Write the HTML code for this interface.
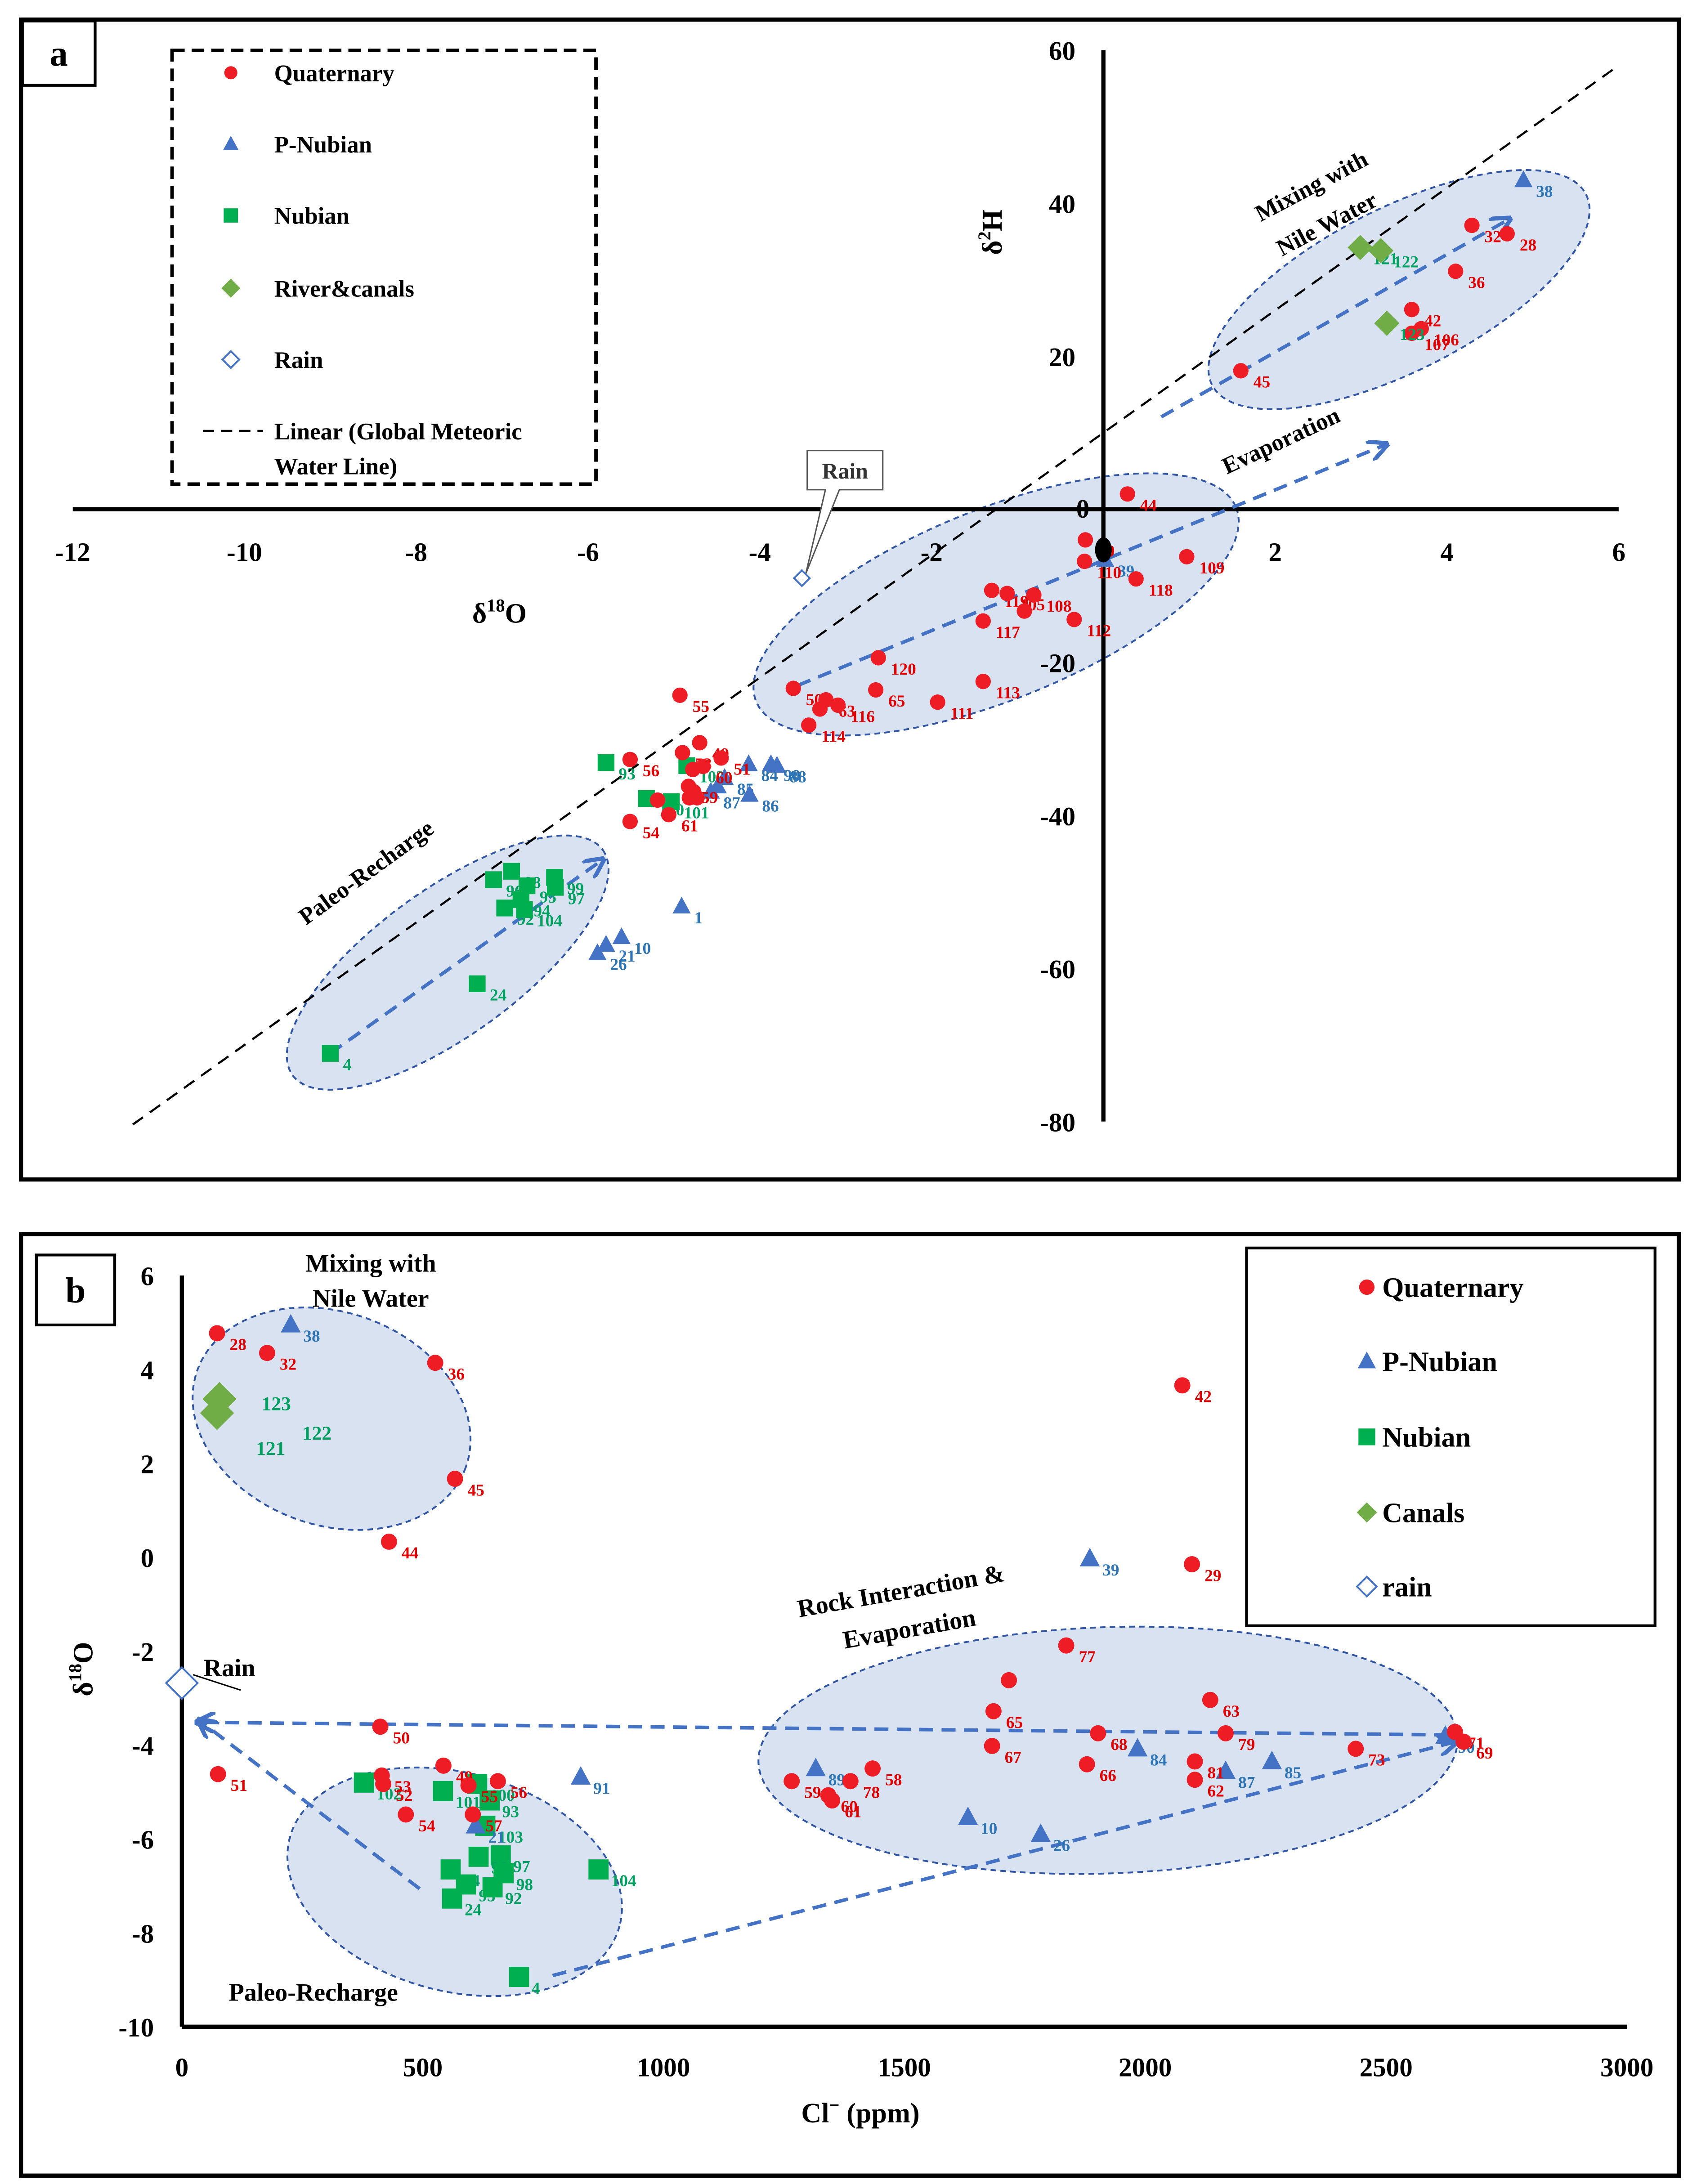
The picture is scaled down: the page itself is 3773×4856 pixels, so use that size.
<!DOCTYPE html>
<html><head><meta charset="utf-8">
<style>
html,body{margin:0;padding:0;background:#fff;}
svg{display:block;}
text{font-family:"Liberation Serif",serif;font-weight:bold;}
</style></head>
<body>
<svg id="fig" width="3773" height="4856" viewBox="0 0 1213 1561" preserveAspectRatio="none" xmlns="http://www.w3.org/2000/svg">
<defs>
<marker id="arr" viewBox="0 0 10 10" refX="8" refY="5" markerWidth="6" markerHeight="6" orient="auto-start-reverse"><path d="M0,0 L10,5 L0,10" fill="none" stroke="#4472c4" stroke-width="2"/></marker>
</defs>
<!-- Panel A frame -->
<rect x="15" y="14" width="1185" height="829" fill="none" stroke="#000" stroke-width="3"/>
<rect x="16" y="15" width="52" height="46" fill="#fff" stroke="#000" stroke-width="2"/>
<text x="42" y="47" font-size="26" text-anchor="middle">a</text>
<!-- Panel B frame -->
<rect x="15" y="882" width="1185" height="673" fill="none" stroke="#000" stroke-width="3"/>
<rect x="26" y="897" width="56" height="50" fill="#fff" stroke="#000" stroke-width="2"/>
<text x="54" y="931" font-size="26" text-anchor="middle">b</text>

<g id="ga"></g>
<g id="gb"></g>
</svg>
<script>
// ===== Panel A data (δ18O, δ2H) =====
const aQuatX=[0.28,-0.21,-0.22,0.38,0.97,-1.30,-1.12,-1.40,-0.81,-0.92,-0.34,-2.62,-1.40,-1.93,-2.65,-3.61,-3.23,-3.30,-3.09,-3.43,4.29,4.70,4.10,3.59,3.59,3.70,1.60,-4.93,-4.70,-4.90,-4.45,-4.78,-4.66,-5.51,-5.51,-5.19,-5.06,-4.83,-4.82,-4.73,-4.77];
const aQuatY=[2.0,-4.0,-6.8,-9.1,-6.2,-10.6,-11.0,-14.6,-11.2,-13.3,-14.4,-19.4,-22.5,-25.2,-23.6,-23.4,-24.9,-26.1,-25.6,-28.2,37.1,36.0,31.1,26.1,23.0,23.6,18.1,-24.3,-30.5,-31.8,-32.5,-34.0,-33.6,-32.7,-40.8,-38.0,-39.9,-36.2,-37.7,-37.7,-36.9];
const aQuatLbl=["44","29","110","118","109","119","105","117","108","","112","120","113","111","65","50","63","","116","114","32","28","36","42","107","106","45","55","49","53","51","","60","56","54","","61","59","","",""];
const aPNubX=[4.89,0.02,-4.13,-3.80,-3.87,-4.41,-4.12,-4.57,-4.49,-4.91,-5.61,-5.79,-5.89];
const aPNubY=[43.0,-6.6,-33.3,-33.5,-33.3,-35.1,-37.3,-36.9,-36.2,-51.9,-55.9,-56.9,-58.0];
const aPNubLbl=["38","39","84","88","90","85","86","87","","1","10","21","26"];
const aNubX=[-9.0,-7.29,-5.79,-5.32,-5.03,-4.85,-7.10,-6.89,-6.97,-6.78,-6.71,-6.74,-6.39,-6.38];
const aNubY=[-71.1,-62.0,-33.1,-37.8,-38.2,-33.5,-48.4,-47.3,-52.1,-51.0,-49.2,-52.3,-48.1,-49.4];
const aNubLbl=["4","24","93","100","101","102","96","98","92","94","95","104","99","97"];
const aRivX=[2.99,3.23,3.30];
const aRivY=[34.2,33.8,24.3];
const aRivLbl=["121","122","123"];
const aRainX=[-3.51];
const aRainY=[-9.0];
const aXTicks=[-12,-10,-8,-6,-4,-2,0,2,4,6];
const aYTicks=[60,40,20,0,-20,-40,-60,-80];

// ===== Panel B data (Cl ppm, δ18O) =====
const bQuatX=[73,177,526,567,430,2077,2097,1836,1717,1685,1682,2135,2167,1902,1879,2103,2103,2437,2643,2661,1266,1342,1350,1388,1434,412,415,418,75,465,543,595,656,604];
const bQuatY=[4.77,4.35,4.14,1.67,0.33,3.66,-0.15,-1.88,-2.62,-3.28,-4.02,-3.04,-3.75,-3.75,-4.41,-4.35,-4.74,-4.08,-3.72,-3.93,-4.77,-5.07,-5.18,-4.77,-4.50,-3.61,-4.65,-4.83,-4.62,-5.48,-4.44,-4.86,-4.77,-5.48];
const bQuatLbl=["28","32","36","45","44","42","29","77","","65","67","63","79","68","66","81","62","73","71","69","59","60","61","78","58","50","53","52","51","54","49","55","56","57"];
const bPNubX=[226,1885,1316,828,610,1632,1783,1984,2167,2263,2623];
const bPNubY=[4.95,-0.03,-4.50,-4.68,-5.72,-5.54,-5.90,-4.08,-4.56,-4.35,-3.81];
const bPNubLbl=["38","39","89","91","21","10","26","84","87","85","90"];
const bNubX=[378,542,613,639,630,662,616,558,590,561,645,668,865,700];
const bNubY=[-4.80,-4.98,-4.83,-5.18,-5.72,-6.35,-6.38,-6.65,-6.97,-7.27,-7.03,-6.73,-6.65,-8.94];
const bNubLbl=["102","101","100","93","103","97","99","94","95","24","92","98","104","4"];
const bCanX=[78,73];
const bCanY=[3.37,3.07];
const bRainX=[0];
const bRainY=[-2.68];
const bXTicks=[0,500,1000,1500,2000,2500,3000];
const bYTicks=[6,4,2,0,-2,-4,-6,-8,-10];

const NS="http://www.w3.org/2000/svg";
function mk(parent,tag,attrs){const e=document.createElementNS(NS,tag);for(const k in attrs)e.setAttribute(k,attrs[k]);parent.appendChild(e);return e;}
function txt(parent,x,y,s,size,fill,anchor){const t=mk(parent,'text',{x:x,y:y,'font-size':size,fill:fill,'text-anchor':anchor||'start'});t.textContent=s;return t;}
const RED="#ee1c24",BLUE="#4472c4",GREEN="#00b050",LG="#70ad47";
const LRED="#e00000",LBLUE="#2e75b6",LGREEN="#00a060";

// ===== Panel A =====
const ga=document.getElementById('ga');
const ax=v=>788.7+v*61.4, ay=v=>364-v*5.47;
// ellipses
[[320,688,137,52,-36],[712,432,185,68,-22],[1000,207,150,58,-27]].forEach((e,i)=>{
 const el=mk(ga,'ellipse',{cx:0,cy:0,rx:e[2],ry:e[3],transform:`translate(${e[0]},${e[1]}) rotate(${e[4]})`,fill:"#d9e2f0",stroke:"#2f55a4","stroke-width":1.3,"stroke-dasharray":"4,3"});
 
 
});
// GMWL
const gm=mk(ga,'line',{x1:ax(-11.3),y1:ay(8*-11.3+10),x2:ax(6),y2:ay(58),stroke:"#000","stroke-width":1.5,"stroke-dasharray":"9,6"});


// axes
const xa=mk(ga,'line',{x1:52,y1:ay(0),x2:1157,y2:ay(0),stroke:"#000","stroke-width":3});


const ya=mk(ga,'line',{x1:ax(0),y1:ay(60),x2:ax(0),y2:ay(-80),stroke:"#000","stroke-width":3});


aXTicks.forEach(v=>{const t=txt(ga,ax(v),401,String(v),19,"#000","middle");
 
 });
aYTicks.forEach(v=>{if(v===0){const t=txt(ga,ax(0)-10,ay(0)+6,"0",19,"#000","end");return;}
 const t=txt(ga,ax(0)-20,ay(v)+7,String(v),19,"#000","end");
 
 });
const xta=txt(ga,357,445,"δ",20,"#000","middle");xta.innerHTML='δ<tspan font-size="13" dy="-8">18</tspan><tspan dy="8">O</tspan>';


const yta=mk(ga,'text',{x:0,y:0,'font-size':20,transform:"translate(716,166) rotate(-90)",'text-anchor':'middle'});yta.innerHTML='δ<tspan font-size="13" dy="-8">2</tspan><tspan dy="8">H</tspan>';


// arrows
[[ax(-9),ay(-71.1),430,615],[570,490,990,318],[830,298,1078,157]].forEach(a=>{
 const l=mk(ga,'line',{x1:a[0],y1:a[1],x2:a[2],y2:a[3],stroke:BLUE,"stroke-width":2.5,"stroke-dasharray":"10,6","marker-end":"url(#arr)"});
 
 
});
// annotations
[["Paleo-Recharge",265,628,-36],["Evaporation",918,320,-25],["Mixing with",940,138,-28],["Nile Water",951,165,-28]].forEach(s=>{
 const t=mk(ga,'text',{x:0,y:0,'font-size':17,transform:`translate(${s[1]},${s[2]}) rotate(${s[3]})`,'text-anchor':'middle'});t.textContent=s[0];
 
 
});
// rain callout
const rc=mk(ga,'path',{d:"M577,322 H631 V350 H600 L576,410 L590,350 H577 Z",fill:"#fff",stroke:"#555","stroke-width":1});


const rct=txt(ga,604,342,"Rain",16,"#333","middle");rct.setAttribute('font-weight','normal');



function marker(g,type,x,y,sc){
 sc=sc||1;let e;
 if(type==='c')e=mk(g,'circle',{cx:x,cy:y,r:5.5*sc,fill:RED});
 else if(type==='t')e=mk(g,'path',{d:`M${x},${y-7*sc} L${x+6.5*sc},${y+5*sc} L${x-6.5*sc},${y+5*sc} Z`,fill:BLUE});
 else if(type==='s')e=mk(g,'rect',{x:x-6*sc,y:y-6*sc,width:12*sc,height:12*sc,fill:GREEN});
 else if(type==='d')e=mk(g,'path',{d:`M${x},${y-9*sc} L${x+9*sc},${y} L${x},${y+9*sc} L${x-9*sc},${y} Z`,fill:LG});
 else e=mk(g,'path',{d:`M${x},${y-7*sc} L${x+7*sc},${y} L${x},${y+7*sc} L${x-7*sc},${y} Z`,fill:"#fff",stroke:BLUE,"stroke-width":1.3});
 return e;
}
function series(g,X,Y,L,fx,fy,type,col,name,sc){
 X.forEach((v,i)=>{const px=fx(v),py=fy(Y[i]);
  const m=marker(g,type,px,py,sc);
  
  
  if(L&&L[i]){const t=txt(g,px+9,py+12,L[i],12,col);
   
   }
 });
}
series(ga,aNubX,aNubY,aNubLbl,ax,ay,'s',LGREEN,'nubian-point-a');
series(ga,aPNubX,aPNubY,aPNubLbl,ax,ay,'t',LBLUE,'p-nubian-point-a');
series(ga,aQuatX,aQuatY,aQuatLbl,ax,ay,'c',LRED,'quaternary-point-a');
series(ga,aRivX,aRivY,aRivLbl,ax,ay,'d',LGREEN,'river-point-a');
series(ga,aRainX,aRainY,null,ax,ay,'r',LBLUE,'rain-point-a',0.8);
const blob=mk(ga,'ellipse',{cx:ax(0),cy:393,rx:6,ry:9,fill:"#000"});


// legend A
const lga=mk(ga,'g',{});
const lbx=mk(lga,'rect',{x:123,y:36,width:303,height:310,fill:"#fff",stroke:"#000","stroke-width":2.5,"stroke-dasharray":"9,5"});


[['c','Quaternary',52],['t','P-Nubian',103],['s','Nubian',154],['d','River&canals',206],['r','Rain',257]].forEach(r=>{
 const m=marker(lga,r[0],165,r[2],r[0]==='d'?0.75:0.85);
 
 
 const t=txt(lga,196,r[2]+6,r[1],17,"#000");
 
 
});
const ll=mk(lga,'line',{x1:145,y1:308,x2:188,y2:308,stroke:"#000","stroke-width":1.5,"stroke-dasharray":"8,5"});


const lt1=txt(lga,196,314,"Linear (Global Meteoric",17,"#000");


const lt2=txt(lga,196,339,"Water Line)",17,"#000");



// ===== Panel B =====
const gb=document.getElementById('gb');
const bx=v=>130+v*0.3443, by=v=>1113-v*33.56;
[[237,1014,102,76,20],[325,1345,122,78,15],[792,1251,250,88,-2]].forEach(e=>{
 const el=mk(gb,'ellipse',{cx:0,cy:0,rx:e[2],ry:e[3],transform:`translate(${e[0]},${e[1]}) rotate(${e[4]})`,fill:"#d9e2f0",stroke:"#2f55a4","stroke-width":1.3,"stroke-dasharray":"4,3"});
 
 
});
const xb=mk(gb,'line',{x1:bx(0),y1:by(-10),x2:bx(3000),y2:by(-10),stroke:"#000","stroke-width":3});


const yb=mk(gb,'line',{x1:bx(0),y1:by(6),x2:bx(0),y2:by(-10),stroke:"#000","stroke-width":3});


bXTicks.forEach(v=>{const t=txt(gb,bx(v),1484,String(v),19,"#000","middle");
 
 });
bYTicks.forEach(v=>{const t=txt(gb,110,by(v)+7,String(v),19,"#000","end");
 
 });
const xtb=txt(gb,615,1517,"",20,"#000","middle");xtb.innerHTML='Cl<tspan font-size="13" dy="-8">−</tspan><tspan dy="8"> (ppm)</tspan>';


const ytb=mk(gb,'text',{x:0,y:0,'font-size':20,transform:"translate(66,1193) rotate(-90)",'text-anchor':'middle'});ytb.innerHTML='δ<tspan font-size="13" dy="-8">18</tspan><tspan dy="8">O</tspan>';


[[1035,1240,142,1231],[300,1350,143,1230],[395,1412,1040,1245]].forEach(a=>{
 const l=mk(gb,'line',{x1:a[0],y1:a[1],x2:a[2],y2:a[3],stroke:BLUE,"stroke-width":2.5,"stroke-dasharray":"10,6","marker-end":"url(#arr)"});
 
 
});
[["Mixing with",265,909,0],["Nile Water",265,934,0],["Paleo-Recharge",224,1430,0],["Rain",164,1198,0],["Rock Interaction &",645,1143,-10],["Evaporation",651,1170,-10]].forEach(s=>{
 const t=mk(gb,'text',{x:0,y:0,'font-size':18,transform:`translate(${s[1]},${s[2]}) rotate(${s[3]})`,'text-anchor':'middle'});t.textContent=s[0];
 
 
});
const rl=mk(gb,'line',{x1:138,y1:1197,x2:172,y2:1208,stroke:"#000","stroke-width":1});


series(gb,bNubX,bNubY,bNubLbl,bx,by,'s',LGREEN,'nubian-point-b',1.2);
series(gb,bPNubX,bPNubY,bPNubLbl,bx,by,'t',LBLUE,'p-nubian-point-b',1.1);
series(gb,bQuatX,bQuatY,bQuatLbl,bx,by,'c',LRED,'quaternary-point-b',1.05);
series(gb,bCanX,bCanY,null,bx,by,'d',LGREEN,'canal-point-b',1.35);
series(gb,bRainX,bRainY,null,bx,by,'r',LBLUE,'rain-point-b',1.6);
[["123",187,1008],["122",216,1029],["121",183,1040]].forEach(s=>{const t=txt(gb,s[1],s[2],s[0],14,LGREEN);
 
 });
const lgb=mk(gb,'g',{});
const lbb=mk(lgb,'rect',{x:891,y:892,width:292,height:270,fill:"#fff",stroke:"#000","stroke-width":2});


[['c','Quaternary',920],['t','P-Nubian',973],['s','Nubian',1027],['d','Canals',1081],['r','rain',1134]].forEach(r=>{
 const m=marker(lgb,r[0],977,r[2],r[0]==='d'?0.8:1);
 
 
 const t=txt(lgb,988,r[2]+7,r[1],20,"#000");
 
 
});
</script>
</body></html>
